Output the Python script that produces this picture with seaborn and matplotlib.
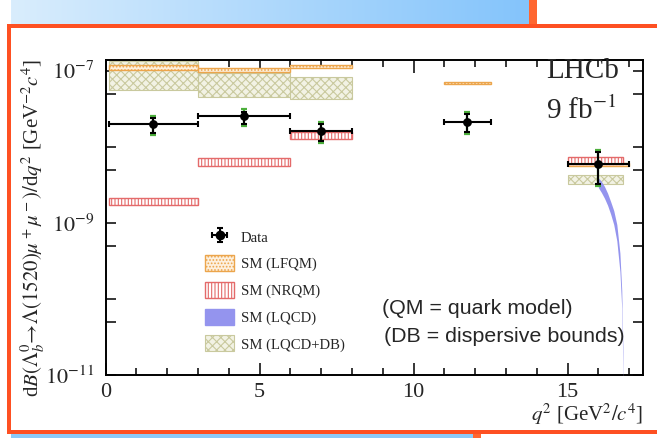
import numpy as np
import seaborn as sns
import matplotlib.pyplot as plt
from matplotlib.patches import Rectangle, Patch
from matplotlib.lines import Line2D
from matplotlib.colors import LinearSegmentedColormap
from matplotlib.ticker import FixedLocator, NullFormatter

# ---- data ----
# LHCb measurement
data_q2 = [1.55, 4.5, 7.0, 11.75, 16.0]
data_lo_edge = [0.1, 3.0, 6.0, 11.0, 15.0]
data_hi_edge = [3.0, 6.0, 8.0, 12.5, 17.0]
data_val = [1.96e-8, 2.53e-8, 1.62e-8, 2.14e-8, 5.9e-9]
data_stat_up = [2.37e-8, 2.89e-8, 2.00e-8, 2.67e-8, 8.6e-9]
data_stat_dn = [1.53e-8, 1.99e-8, 1.20e-8, 1.58e-8, 3.2e-9]
data_tot_up = [2.53e-8, 3.10e-8, 2.14e-8, 2.84e-8, 9.05e-9]
data_tot_dn = [1.43e-8, 1.87e-8, 1.11e-8, 1.46e-8, 3.04e-9]

# SM (LFQM)
lfqm_lo_edge = [0.1, 3.0, 6.0, 11.0, 15.0]
lfqm_hi_edge = [3.0, 6.0, 8.0, 12.5, 17.0]
lfqm_low = [1.01e-7, 0.953e-7, 1.076e-7, 6.62e-8, 5.57e-9]
lfqm_high = [1.18e-7, 1.076e-7, 1.19e-7, 7.03e-8, 6.05e-9]

# SM (NRQM)
nrqm_lo_edge = [0.1, 3.0, 6.0, 15.0]
nrqm_hi_edge = [3.0, 6.0, 8.0, 16.8]
nrqm_low = [1.70e-9, 5.5e-9, 1.26e-8, 6.0e-9]
nrqm_high = [2.15e-9, 7.1e-9, 1.58e-8, 7.4e-9]

# SM (LQCD+DB)
lqdb_lo_edge = [0.1, 3.0, 6.0, 15.0]
lqdb_hi_edge = [3.0, 6.0, 8.0, 16.8]
lqdb_low = [5.6e-8, 4.5e-8, 4.3e-8, 3.26e-9]
lqdb_high = [1.35e-7, 9.2e-8, 8.2e-8, 4.2e-9]

# SM (LQCD) band near the endpoint
lqcd_q2 = [16.0, 16.1, 16.2, 16.3, 16.4, 16.5, 16.6, 16.7, 16.76, 16.8, 16.81]
lqcd_low = [2.9e-9, 2.5e-9, 2.1e-9, 1.7e-9, 1.3e-9, 9.5e-10, 5.8e-10, 2.3e-10, 7.5e-11, 1.1e-11, 4e-12]
lqcd_high = [3.9e-9, 3.5e-9, 3.0e-9, 2.45e-9, 1.9e-9, 1.45e-9, 9.5e-10, 4.0e-10, 1.3e-10, 2.0e-11, 6e-12]

sns.set_style("ticks")
plt.rcParams['font.family'] = ['Liberation Serif', 'DejaVu Serif']
plt.rcParams['mathtext.fontset'] = 'stix'
plt.rcParams['hatch.linewidth'] = 0.8

W, H = 657, 438
fig = plt.figure(figsize=(W / 100, H / 100), dpi=100)
fig.patch.set_facecolor('white')

def px_rect(x0, y0, x1, y1, color):
    # pixel box, measured from the top-left corner
    fig.patches.append(Rectangle((x0 / W, 1 - y1 / H), (x1 - x0) / W, (y1 - y0) / H,
                                 transform=fig.transFigure, color=color, lw=0, zorder=0))

orange = '#fe5022'
grad = fig.add_axes([11 / W, 1 - 24 / H, (529 - 11) / W, 24 / H])
grad.imshow(np.linspace(0, 1, 256).reshape(1, -1), aspect='auto',
            cmap=LinearSegmentedColormap.from_list('g', ['#d9edfd', '#84c4fb']))
grad.axis('off')
px_rect(529, 0, 537, 24, '#ff6630')
px_rect(7, 24, 657, 28, orange)
px_rect(7, 24, 11, 434, orange)
px_rect(7, 430, 657, 434, orange)
px_rect(11, 434, 473, 438, '#8ccaf8')
px_rect(473, 434, 481, 438, '#ff6630')

ax = fig.add_axes([105.6 / W, 1 - 375 / H, (643 - 105.6) / W, (375 - 59.5) / H])
ax.set_yscale('log')

def boxes(lo_e, hi_e, low, high, **kw):
    lo_e, hi_e = np.array(lo_e), np.array(hi_e)
    low, high = np.array(low), np.array(high)
    ax.bar(lo_e, high - low, bottom=low, width=hi_e - lo_e, align='edge', **kw)

boxes(lqdb_lo_edge, lqdb_hi_edge, lqdb_low, lqdb_high,
      facecolor='#f2f2e4', edgecolor='#c9c99e', hatch='xxxx', lw=0.8, zorder=2)
boxes(lfqm_lo_edge, lfqm_hi_edge, lfqm_low, lfqm_high,
      facecolor='#fdf0de', edgecolor='#eca54c', hatch='.....', lw=1.0, zorder=3)
boxes(nrqm_lo_edge, nrqm_hi_edge, nrqm_low, nrqm_high,
      facecolor='white', edgecolor='#e46a6a', hatch='|||||', lw=1.0, zorder=3)
ax.fill_between(lqcd_q2, lqcd_low, lqcd_high, color='#9494ee', lw=0, zorder=3)

val = np.array(data_val)
xq = np.array(data_q2)
tot_err = [val - np.array(data_tot_dn), np.array(data_tot_up) - val]
stat_err = [val - np.array(data_stat_dn), np.array(data_stat_up) - val]
x_err = [xq - np.array(data_lo_edge), np.array(data_hi_edge) - xq]
ax.errorbar(xq, val, yerr=tot_err, fmt='none', ecolor='#4caf3c', elinewidth=1.6,
            capsize=2.5, capthick=1.6, zorder=4)
eb = ax.errorbar(xq, val, yerr=stat_err, xerr=x_err, fmt='none', ecolor='black',
                 elinewidth=1.5, capsize=2.5, capthick=1.5, zorder=5)
sns.scatterplot(x=data_q2, y=data_val, ax=ax, color='black', s=40,
                edgecolor='black', linewidth=0, zorder=6, legend=False)

ax.set_xlim(0, 17.45)
ax.set_ylim(1e-11, 1.4e-7)

ax.set_xticks([0, 5, 10, 15])
ax.set_xticklabels(['0', '5', '10', '15'])
ax.xaxis.set_minor_locator(FixedLocator(np.arange(0, 18, 1)))
ax.yaxis.set_major_locator(FixedLocator([1e-11, 1e-10, 1e-9, 1e-8, 1e-7]))
ax.set_yticklabels([r'$10^{-11}$', '', r'$10^{-9}$', '', r'$10^{-7}$'])
ax.yaxis.set_minor_locator(FixedLocator([5e-11, 5e-10, 5e-9, 5e-8]))
ax.yaxis.set_minor_formatter(NullFormatter())
ax.tick_params(which='both', direction='in', top=True, right=True, width=1.1,
               labelsize=16, color='black')
ax.tick_params(axis='x', which='major', length=9, pad=6)
ax.tick_params(axis='x', which='minor', length=5)
ax.tick_params(axis='y', which='both', length=7, pad=8)
for s in ax.spines.values():
    s.set_linewidth(1.4)
    s.set_color('black')

ax.set_ylabel(r'd$\mathit{B}(\mathit{\Lambda}_b^0\!\rightarrow\!\mathit{\Lambda}(1520)\mu^+\mu^-)/$d$q^2$ [GeV$^{-2}c^4$]',
              fontsize=15)
ax.yaxis.set_label_coords(-0.109, 0.465)
ax.set_xlabel(r'$q^2$ [GeV$^2/c^4$]', fontsize=15, loc='right')
ax.xaxis.set_label_coords(1.0, -0.082)

ax.text(0.888, 0.962, 'LHCb', transform=ax.transAxes, fontsize=21,
        ha='center', va='center')
ax.text(0.886, 0.838, r'9 fb$^{-1}$', transform=ax.transAxes, fontsize=21,
        ha='center', va='center')
ax.text((381.7 - 105.6) / 537.4, (375 - 308) / 315.5, '(QM = quark model)',
        transform=ax.transAxes, fontsize=15.4, family='Liberation Sans', va='center')
ax.text((384 - 105.6) / 537.4, (375 - 337) / 315.5, '(DB = dispersive bounds)',
        transform=ax.transAxes, fontsize=15.4, family='Liberation Sans', va='center')

data_handle = (eb, Line2D([], [], marker='o', color='black', ls='', markersize=6))
handles = [
    data_handle,
    Patch(facecolor='#fdf0de', edgecolor='#eca54c', hatch='.....', lw=1.0),
    Patch(facecolor='white', edgecolor='#e46a6a', hatch='|||||', lw=1.0),
    Patch(facecolor='#9494ee', edgecolor='#9494ee'),
    Patch(facecolor='#f2f2e4', edgecolor='#c9c99e', hatch='xxxx', lw=0.8),
]
labels = ['Data', 'SM (LFQM)', 'SM (NRQM)', 'SM (LQCD)', 'SM (LQCD+DB)']
ax.legend(handles, labels, loc='upper left', bbox_to_anchor=(0.185, 0.464),
          frameon=False, fontsize=10.6, borderpad=0, borderaxespad=0,
          handlelength=2.0, handleheight=1.3, handletextpad=0.42, labelspacing=0.72)

fig.savefig('out.png', dpi=100)
